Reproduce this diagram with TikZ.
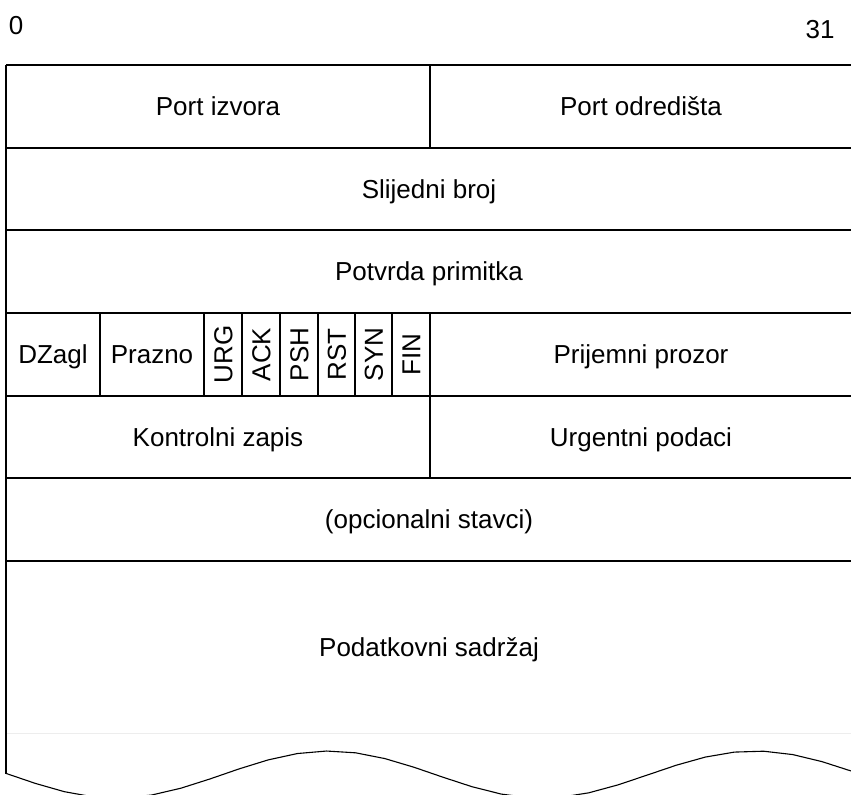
\documentclass[tikz,border=0pt]{standalone}
\usepackage{fontspec}
\setmainfont{Liberation Sans}
\usetikzlibrary{positioning}

\begin{document}
\begin{tikzpicture}[x=0.5pt,y=-0.5pt]

\tikzset{
    field/.style={font=\fontsize{13}{15}\selectfont, inner sep=0pt, text height=9.3pt, text depth=0pt},
    flag/.style={field, rotate=90},
    myline/.style={line width=0.8pt},
    waveline/.style={line width=0.55pt},
    faintline/.style={line width=0.5pt, black!7}
}

\useasboundingbox (0,0) rectangle (851,794);
\clip (0,0) rectangle (851,794);

% Bit numbers
\node[field] (bit0) at (16,25) {0};
\node[field] (bit31) at (820,29) {31};

% Row lines
\foreach \y in {65,148,230,313,396,478,561}
  \draw[myline] (6,\y) -- (851,\y);
\draw[faintline] (6,733) -- (851,733);

% Left border
\draw[myline] (6,65) -- (6,774);

% Middle splits
\draw[myline] (430,65) -- (430,148);
\draw[myline] (430,313) -- (430,478);

% Flag columns
\foreach \x in {100,204,242,280,318,355,392}
  \draw[myline] (\x,313) -- (\x,396);

% Row 1
\node[field] (src) at (218,106.5) {Port izvora};
\node[field] (dst) at (641,106.5) {Port odredišta};

% Row 2 and 3
\node[field] (seq) at (429,189) {Slijedni broj};
\node[field] (ack) at (429,271.5) {Potvrda primitka};

% Row 4
\node[field] (hlen) at (53,354.5) {DZagl};
\node[field] (resv) at (152,354.5) {Prazno};
\node[flag] (furg) at (223,354.5) {URG};
\node[flag] (fack) at (261,354.5) {ACK};
\node[flag] (fpsh) at (299,354.5) {PSH};
\node[flag] (frst) at (336.5,354.5) {RST};
\node[flag] (fsyn) at (373.5,354.5) {SYN};
\node[flag] (ffin) at (411,354.5) {FIN};
\node[field] (win) at (641,354.5) {Prijemni prozor};

% Row 5
\node[field] (csum) at (218,437) {Kontrolni zapis};
\node[field] (urg) at (641,437) {Urgentni podaci};

% Row 6 and data
\node[field] (opt) at (429,519.5) {(opcionalni stavci)};
\node[field] (data) at (429,647) {Podatkovni sadržaj};

% Wavy cut
\draw[waveline] plot[domain=6:851, samples=30] (\x, {774.6-23.6*sin((\x-222.5)/426*360)});

\end{tikzpicture}
\end{document}
